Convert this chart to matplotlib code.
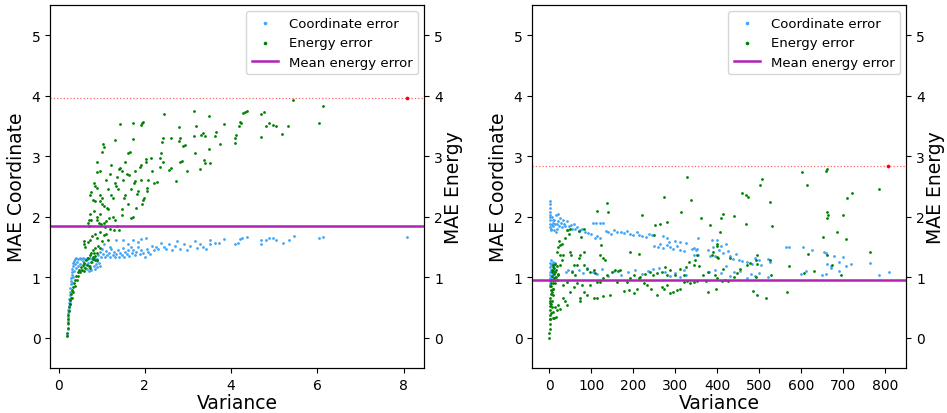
import numpy as np
import matplotlib.pyplot as plt

# ---- left panel (small variance range) ----
left_coord = [
    (0.20, 0.05), (0.21, 0.15), (0.21, 0.22), (0.22, 0.28), (0.22, 0.34), (0.23, 0.40), (0.23, 0.46),
    (0.24, 0.52), (0.24, 0.58), (0.25, 0.64), (0.26, 0.70), (0.26, 0.76), (0.27, 0.82), (0.28, 0.88),
    (0.28, 0.93), (0.29, 0.98), (0.30, 1.03), (0.31, 1.08), (0.32, 1.13), (0.33, 1.18), (0.34, 1.23),
    (0.35, 1.27), (0.25, 0.45), (0.27, 0.60), (0.29, 0.75), (0.31, 0.90), (0.33, 1.00), (0.36, 1.10),
    (0.37, 1.30), (0.41, 1.31), (0.45, 1.30), (0.49, 1.31), (0.53, 1.30), (0.57, 1.31), (0.61, 1.30),
    (0.65, 1.31), (0.69, 1.30), (0.73, 1.31), (0.77, 1.30), (0.81, 1.31), (0.85, 1.30), (0.89, 1.30),
    (0.38, 1.22), (0.40, 1.15), (0.43, 1.25), (0.46, 1.18), (0.50, 1.22), (0.53, 1.12), (0.56, 1.26),
    (0.59, 1.17), (0.62, 1.22), (0.66, 1.14), (0.69, 1.24), (0.72, 1.18), (0.75, 1.12), (0.78, 1.25),
    (0.81, 1.19), (0.84, 1.14), (0.87, 1.22), (0.90, 1.16), (0.93, 1.24), (0.96, 1.18), (0.88, 1.27),
    (0.70, 1.10), (0.92, 1.36), (0.95, 1.42), (0.98, 1.33), (1.01, 1.46), (1.04, 1.38), (1.07, 1.33),
    (1.10, 1.43), (1.13, 1.36), (1.16, 1.40), (1.19, 1.33), (1.22, 1.46), (1.25, 1.36), (1.28, 1.41),
    (1.31, 1.34), (1.34, 1.39), (1.37, 1.45), (1.40, 1.33), (1.43, 1.40), (1.46, 1.36), (1.49, 1.48),
    (1.52, 1.34), (1.55, 1.42), (1.58, 1.38), (1.61, 1.45), (1.64, 1.35), (1.67, 1.50), (1.70, 1.40),
    (1.73, 1.45), (1.76, 1.36), (1.80, 1.42), (1.84, 1.50), (1.88, 1.38), (1.92, 1.45), (1.96, 1.40),
    (2.00, 1.33), (2.04, 1.47), (2.08, 1.42), (2.12, 1.38), (2.16, 1.52), (2.20, 1.45), (1.05, 1.55),
    (1.32, 1.62), (1.50, 1.62), (1.72, 1.62), (1.92, 1.63), (2.02, 1.64), (1.20, 1.50), (1.60, 1.55),
    (1.85, 1.58), (2.25, 1.50), (2.30, 1.47), (2.38, 1.56), (2.44, 1.50), (2.50, 1.46), (2.55, 1.55),
    (2.62, 1.45), (2.70, 1.52), (2.75, 1.59), (2.82, 1.47), (2.90, 1.55), (2.98, 1.45), (3.05, 1.52),
    (3.15, 1.60), (3.20, 1.48), (3.28, 1.55), (3.35, 1.50), (3.42, 1.47), (3.50, 1.55), (3.50, 1.62),
    (3.62, 1.57), (3.72, 1.57), (3.84, 1.63), (4.08, 1.55), (4.16, 1.57), (4.20, 1.63), (4.26, 1.65),
    (4.36, 1.66), (4.68, 1.55), (4.70, 1.62), (4.80, 1.61), (4.87, 1.64), (4.97, 1.64), (5.05, 1.62),
    (5.20, 1.57), (5.35, 1.61), (5.45, 1.68), (6.03, 1.64), (6.13, 1.67), (8.08, 1.67),
]
left_energy = [
    (0.20, 0.02), (0.20, 0.08), (0.21, 0.16), (0.21, 0.24), (0.22, 0.30), (0.23, 0.37), (0.24, 0.44),
    (0.25, 0.50), (0.26, 0.56), (0.27, 0.62), (0.28, 0.66), (0.29, 0.72), (0.31, 0.78), (0.33, 0.84),
    (0.35, 0.90), (0.38, 0.96), (0.41, 1.02), (0.44, 1.08), (0.48, 1.12), (0.52, 1.16), (0.56, 1.20),
    (0.60, 1.24), (0.64, 1.28), (0.68, 1.32), (0.72, 1.36), (0.76, 1.40), (0.80, 1.44), (0.84, 1.48),
    (0.27, 0.55), (0.30, 0.65), (0.34, 0.75), (0.37, 0.85), (0.42, 0.95), (0.46, 1.02), (0.50, 1.08),
    (0.55, 1.12), (0.62, 1.15), (0.70, 1.18), (0.75, 1.25), (0.80, 1.30), (0.85, 1.35), (0.90, 1.40),
    (0.60, 1.10), (0.66, 1.20), (0.72, 1.15), (0.88, 1.28), (0.58, 1.60), (0.60, 1.55), (0.62, 1.50),
    (0.69, 1.58), (0.72, 1.62), (0.78, 1.68), (0.84, 1.72), (0.88, 1.65), (0.92, 1.52), (0.95, 1.48),
    (1.00, 1.60), (1.05, 1.70), (1.10, 1.72), (1.15, 1.62), (0.82, 1.40), (0.80, 1.33), (0.85, 1.28),
    (0.95, 1.75), (1.08, 1.82), (1.20, 1.80), (1.28, 1.78), (1.35, 1.85), (1.40, 1.78), (0.70, 1.85),
    (0.75, 1.95), (0.72, 2.05), (0.70, 1.95), (0.68, 1.90), (0.90, 1.95), (0.93, 1.90), (0.98, 1.88),
    (1.05, 1.90), (1.10, 1.93), (1.18, 1.98), (1.25, 2.00), (1.30, 1.95), (1.06, 2.17), (1.12, 2.15),
    (0.97, 2.35), (1.00, 2.30), (0.97, 2.25), (0.80, 2.28), (0.85, 2.25), (0.75, 2.40), (0.73, 2.35),
    (0.83, 2.55), (0.85, 2.50), (0.88, 2.48), (0.90, 2.74), (0.96, 2.76), (0.89, 2.90), (1.00, 3.07),
    (1.04, 3.20), (1.05, 3.15), (1.14, 2.13), (1.21, 2.35), (1.25, 2.30), (1.34, 2.50), (1.38, 2.45),
    (1.43, 2.80), (1.46, 2.75), (1.40, 2.78), (1.47, 2.12), (1.47, 2.02), (1.55, 2.35), (1.52, 2.30),
    (1.31, 3.27), (1.43, 3.53), (1.63, 2.68), (1.58, 2.70), (1.65, 3.07), (1.62, 3.05), (1.72, 2.00),
    (1.69, 1.98), (1.72, 3.55), (1.72, 3.29), (1.77, 2.58), (1.75, 2.55), (1.85, 2.42), (1.82, 2.38),
    (1.90, 2.85), (1.88, 2.82), (1.96, 3.56), (1.93, 3.54), (1.91, 3.52), (1.98, 2.30), (1.95, 2.27),
    (1.93, 2.21), (2.02, 2.90), (2.03, 2.95), (2.05, 2.48), (2.05, 2.43), (2.07, 2.60), (2.14, 2.96),
    (2.16, 2.75), (2.28, 2.57), (2.22, 2.55), (2.34, 2.82), (2.38, 3.05), (2.36, 2.97), (2.41, 2.90),
    (2.41, 3.30), (2.39, 3.23), (2.45, 3.69), (2.60, 3.30), (2.60, 2.80), (2.56, 2.77), (2.72, 2.58),
    (2.78, 3.48), (2.82, 3.30), (2.79, 3.25), (2.82, 2.90), (2.86, 2.92), (2.93, 3.18), (2.89, 3.16),
    (2.97, 2.75), (3.14, 3.75), (3.19, 3.49), (3.14, 3.34), (3.15, 3.05), (3.28, 2.79), (3.30, 3.35),
    (3.34, 3.38), (3.40, 3.33), (3.36, 2.93), (3.40, 2.89), (3.49, 3.66), (3.49, 3.12), (3.50, 2.89),
    (3.65, 3.40), (3.63, 3.34), (3.73, 3.20), (3.84, 3.53), (4.08, 3.30), (4.10, 3.22), (4.12, 3.35),
    (4.18, 3.50), (4.20, 3.57), (4.22, 3.54), (4.28, 3.72), (4.32, 3.73), (4.36, 3.75), (4.69, 3.70),
    (4.69, 3.32), (4.77, 3.73), (4.80, 3.50), (4.87, 3.55), (4.96, 3.52), (5.04, 3.50), (5.18, 3.37),
    (5.32, 3.49), (5.44, 3.92), (6.03, 3.55), (6.13, 3.82), (1.10, 2.60), (1.20, 2.70), (1.30, 2.55),
    (1.22, 2.85), (1.35, 2.65), (1.50, 2.60), (1.55, 2.90), (1.60, 2.20), (1.68, 2.45), (1.78, 2.75),
    (1.80, 2.15), (1.90, 2.60), (0.90, 2.00), (0.95, 2.05), (1.00, 2.20), (0.82, 2.10), (1.15, 2.45),
]
left_mean = 1.84
left_peak = (8.08, 3.96)

# ---- right panel (large variance range) ----
right_coord = [
    (1, 0.88), (2, 0.93), (2, 0.98), (1, 1.03), (3, 1.08), (4, 1.12), (2, 1.16), (5, 1.20), (3, 1.24),
    (7, 1.22), (9, 1.25), (12, 1.20), (14, 1.24), (6, 1.00), (8, 1.05), (10, 1.12), (13, 1.00), (5, 1.28),
    (1, 2.25), (1, 2.20), (1, 2.14), (1, 2.08), (1, 2.02), (2, 1.95), (3, 1.88), (1, 1.82), (4, 1.78),
    (6, 2.00), (8, 1.90), (10, 1.85), (5, 1.80), (12, 1.95), (14, 1.88), (16, 2.02), (18, 1.80), (20, 1.92),
    (22, 2.05), (24, 1.85), (26, 1.98), (28, 1.90), (30, 1.82), (9, 1.95), (11, 1.78), (15, 1.75), (7, 1.86),
    (3, 2.00), (19, 1.87), (32, 1.95), (35, 1.88), (38, 1.85), (42, 1.92), (45, 1.78), (48, 1.84), (52, 1.86),
    (55, 1.80), (58, 1.88), (62, 1.79), (66, 1.83), (70, 1.76), (74, 1.78), (78, 1.80), (85, 1.75),
    (92, 1.73), (100, 1.72), (105, 1.90), (112, 1.90), (120, 1.90), (128, 1.89), (108, 1.65), (115, 1.68),
    (122, 1.64), (135, 1.76), (140, 1.74), (148, 1.72), (155, 1.78), (162, 1.75), (170, 1.74), (178, 1.73),
    (185, 1.76), (192, 1.72), (200, 1.70), (208, 1.74), (215, 1.70), (222, 1.68), (230, 1.66), (238, 1.72),
    (245, 1.70), (250, 1.52), (258, 1.50), (265, 1.55), (272, 1.48), (280, 1.53), (288, 1.50), (296, 1.46),
    (272, 1.68), (280, 1.65), (285, 1.58), (300, 1.60), (305, 1.52), (312, 1.58), (312, 1.44), (321, 1.43),
    (326, 1.57), (340, 1.46), (345, 1.48), (350, 1.45), (352, 1.46), (354, 1.64), (345, 1.36), (355, 1.36),
    (378, 1.45), (382, 1.35), (388, 1.62), (390, 1.50), (395, 1.35), (400, 1.62), (405, 1.45), (410, 1.52),
    (415, 1.40), (420, 1.55), (425, 1.43), (430, 1.35), (438, 1.30), (445, 1.38), (452, 1.28), (460, 1.27),
    (470, 1.25), (482, 1.22), (490, 1.32), (500, 1.28), (505, 1.20), (520, 1.30), (525, 1.25), (565, 1.49),
    (572, 1.50), (605, 1.50), (625, 1.45), (655, 1.42), (660, 1.40), (678, 1.35), (690, 1.25), (700, 1.33),
    (707, 1.18), (718, 1.22), (764, 1.24), (786, 1.04), (810, 1.08), (662, 1.22), (672, 1.18),
    (40, 1.08), (45, 1.12), (55, 1.10), (70, 1.12), (80, 1.06), (90, 1.15), (105, 1.09), (115, 1.05),
    (125, 1.13), (140, 1.02), (155, 1.10), (172, 1.04), (188, 1.08), (205, 1.12), (220, 1.05), (235, 1.10),
    (248, 1.13), (262, 1.15), (275, 1.08), (288, 1.02), (300, 1.06), (312, 1.00), (320, 1.12), (325, 1.03),
    (380, 1.08), (395, 1.12), (410, 1.06), (420, 1.18), (430, 1.02), (440, 1.08), (455, 1.10), (470, 0.98),
    (480, 1.05), (490, 1.02), (500, 1.06), (520, 1.00), (600, 1.05), (612, 1.10), (650, 1.04), (660, 1.05),
    (670, 1.15), (690, 1.10),
]
right_energy = [
    (0, 0.00), (0.5, 0.08), (1, 0.15), (1, 0.22), (1.5, 0.30), (2, 0.38), (2, 0.45), (2.5, 0.52), (3, 0.58),
    (3, 0.65), (3.5, 0.72), (4, 0.78), (4, 0.85), (5, 0.90), (5, 0.96), (6, 1.02), (6, 1.08), (7, 1.12),
    (8, 1.16), (9, 1.20), (10, 1.10), (11, 1.05), (12, 1.15), (13, 1.22), (14, 1.08), (15, 1.00), (16, 1.12),
    (18, 1.18), (20, 1.05), (3, 0.30), (5, 0.40), (6, 0.50), (7, 0.60), (8, 0.70), (9, 0.80), (10, 0.90),
    (11, 0.95), (4, 0.55), (2, 0.60), (3, 0.85), (6, 0.75), (8, 0.95), (12, 0.98), (10, 0.43), (14, 0.50),
    (18, 0.46), (22, 0.54), (26, 0.47), (8, 0.32), (12, 0.33), (16, 0.34), (34, 0.65), (38, 0.60), (42, 0.54),
    (50, 0.76), (58, 0.84), (66, 0.90), (10, 0.81), (14, 0.90), (18, 0.96), (22, 1.03), (26, 1.20),
    (30, 1.28), (34, 1.36), (26, 1.36), (18, 1.42), (22, 1.50), (30, 1.55), (38, 1.64), (46, 1.72),
    (42, 1.78), (50, 1.80), (24, 1.60), (25, 1.53), (50, 1.41), (52, 1.36), (54, 1.09), (58, 1.20),
    (66, 1.20), (62, 1.03), (70, 1.31), (74, 1.36), (82, 1.42), (82, 1.20), (90, 1.14), (34, 0.87),
    (42, 0.92), (78, 0.87), (82, 0.76), (90, 0.70), (70, 1.77), (76, 1.66), (82, 1.80), (74, 0.65),
    (74, 0.60), (98, 0.87), (113, 0.92), (106, 0.65), (113, 0.66), (129, 0.68), (145, 0.70), (161, 0.92),
    (177, 0.77), (189, 0.79), (201, 0.73), (209, 0.80), (225, 0.90), (233, 0.87), (242, 0.81), (256, 0.70),
    (268, 0.84), (274, 0.81), (280, 0.87), (288, 0.73), (296, 0.76), (304, 0.79), (312, 0.81), (320, 0.92),
    (328, 0.93), (336, 0.91), (344, 0.92), (352, 0.93), (280, 1.03), (300, 1.03), (320, 1.03), (312, 1.14),
    (326, 1.17), (332, 1.25), (344, 1.20), (348, 1.28), (352, 1.36), (356, 1.18), (367, 1.03), (373, 0.93),
    (379, 1.09), (395, 1.03), (399, 0.98), (411, 0.93), (419, 0.95), (427, 0.94), (439, 1.00), (447, 1.06),
    (455, 1.13), (471, 1.20), (479, 1.23), (494, 1.36), (415, 1.14), (431, 1.31), (387, 1.36), (391, 1.42),
    (403, 1.31), (98, 1.09), (106, 1.12), (110, 1.06), (121, 0.92), (129, 0.98), (137, 1.03), (149, 1.09),
    (157, 1.12), (165, 1.10), (169, 1.11), (185, 0.92), (193, 0.98), (203, 1.03), (213, 0.99), (217, 1.00),
    (229, 1.05), (240, 1.09), (248, 1.04), (256, 1.07), (268, 1.09), (276, 1.17), (288, 1.12),
    (786, 2.45), (721, 2.39), (709, 2.31), (706, 1.63), (685, 1.75), (699, 2.02), (662, 2.08), (663, 2.02),
    (661, 1.97), (653, 1.66), (662, 2.78), (660, 2.75), (602, 2.73), (614, 2.53), (616, 1.39), (630, 1.10),
    (606, 1.06), (662, 1.36), (673, 1.20), (694, 1.03), (764, 1.42), (572, 1.18), (566, 0.76), (526, 2.24),
    (530, 1.85), (526, 1.28), (529, 1.04), (506, 2.62), (501, 2.52), (493, 1.28), (494, 1.22), (485, 0.77),
    (496, 0.71), (517, 0.66), (493, 1.00), (469, 1.87), (469, 2.35), (474, 2.32), (459, 2.39), (439, 2.01),
    (415, 2.05), (409, 1.98), (407, 1.75), (400, 1.54), (399, 1.52), (399, 1.34), (398, 0.81), (379, 0.76),
    (383, 1.86), (361, 1.97), (337, 2.28), (327, 2.65), (313, 2.07), (280, 1.91), (273, 2.32), (252, 1.86),
    (250, 1.69), (264, 1.88), (220, 2.02), (193, 1.41), (213, 1.39), (137, 2.23), (140, 2.08), (113, 2.09),
    (124, 1.53), (122, 1.36), (128, 1.31), (134, 1.28),
]
right_mean = 0.96
right_peak = (806, 2.84)

coord_color = '#42a5f5'
energy_color = 'green'
mean_color = '#b022b5'

plt.rcParams['font.size'] = 10

fig = plt.figure(figsize=(9.47, 4.14), dpi=100)
ax_l = fig.add_axes([0.053, 0.109, 0.395, 0.877])
ax_r = fig.add_axes([0.562, 0.109, 0.395, 0.877])


def draw_panel(ax, coord, energy, mean, peak):
    cx, cy = np.array(coord).T
    ex, ey = np.array(energy).T
    ax2 = ax.twinx()
    h1 = ax.scatter(cx, cy, s=4, color=coord_color, linewidths=0, label='Coordinate error')
    h2 = ax2.scatter(ex, ey, s=4, color=energy_color, linewidths=0, label='Energy error')
    h3 = ax2.axhline(mean, color=mean_color, lw=1.8, label='Mean energy error')
    ax2.axhline(peak[1], color='red', ls=':', lw=0.9, alpha=0.6)
    ax2.scatter([peak[0]], [peak[1]], s=7, color='red', linewidths=0, zorder=5)
    for a in (ax, ax2):
        a.set_ylim(-0.5, 5.5)
        a.set_yticks(range(6))
    ax.set_xlabel('Variance', fontsize=13.5, labelpad=1)
    ax.set_ylabel('MAE Coordinate', fontsize=13.5)
    ax2.set_ylabel('MAE Energy', fontsize=13.5, labelpad=1)
    ax2.legend([h1, h2, h3], ['Coordinate error', 'Energy error', 'Mean energy error'],
               loc='upper right', fontsize=9.5, markerscale=1.3)


draw_panel(ax_l, left_coord, left_energy, left_mean, left_peak)
draw_panel(ax_r, right_coord, right_energy, right_mean, right_peak)
ax_r.set_xticks(range(0, 900, 100))

fig.savefig('out.png', dpi=100)
